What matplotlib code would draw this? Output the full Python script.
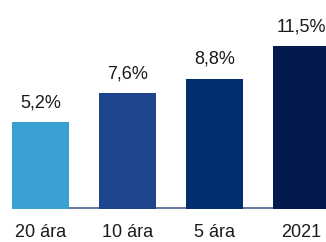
import matplotlib
matplotlib.use("Agg")
import matplotlib.pyplot as plt

labels = ["20 ára", "10 ára", "5 ára", "2021"]
values = [5.2, 7.6, 8.8, 11.5]
value_text = ["5,2%", "7,6%", "8,8%", "11,5%"]
colors = ["#38a1d1", "#1e458e", "#022d6f", "#04194d"]

base = -2.0  # axis floor used by the original chart
bar_w = 0.655

plt.rcParams['font.family'] = ['Liberation Sans', 'DejaVu Sans']

fig = plt.figure(figsize=(3.26, 2.42), dpi=100)
ax = fig.add_axes([0, 33 / 242, 1, 209 / 242])

x = range(len(values))
heights = [v - base for v in values]
ax.bar(x, heights, bottom=base, width=bar_w, color=colors, zorder=2)
ax.hlines(base + 0.12, -bar_w / 2, len(values) - 1 + bar_w / 2,
          color="#5b6b93", lw=1.3, zorder=1)

for i, v in enumerate(values):
    ax.annotate(value_text[i], (i, v), xytext=(0, 10.8), textcoords="offset points",
                ha="center", va="baseline", fontsize=13, color="#1a1a1a")
    ax.annotate(labels[i], (i, 0), xycoords=("data", "axes fraction"),
                xytext=(0, -20.5), textcoords="offset points",
                ha="center", va="baseline", fontsize=13, color="#1a1a1a",
                annotation_clip=False)

ax.set_xlim(-0.4655, 3.2816)
ax.set_ylim(base, base + 209 / 12.06)
ax.axis("off")

fig.savefig("out.png", dpi=100)
